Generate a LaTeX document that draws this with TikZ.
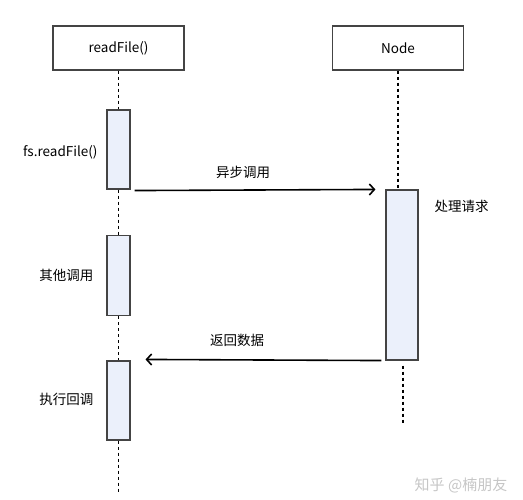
\documentclass[tikz,border=0pt]{standalone}
\usepackage{fontspec}
\setmainfont{Noto Sans CJK SC}
\usetikzlibrary{calc, arrows.meta}
\definecolor{actfill}{HTML}{EBF0FB}
\definecolor{edgegray}{HTML}{444444}

\begin{document}
\begin{tikzpicture}[x=1pt, y=1pt, >={Straight Barb[length=5pt, width=11pt]},
    font=\fontsize{13.5}{15}\selectfont,
    headbox/.style={draw=edgegray, line width=1.2pt, minimum width=131pt, minimum height=44pt, inner sep=0pt},
    actbox/.style={draw=edgegray, line width=1.1pt, fill=actfill, inner sep=0pt},
    lifeline/.style={line width=1.8pt, dash pattern=on 3pt off 3pt},
    msg/.style={line width=1.6pt, ->}]
    % --- Frame ---
    \useasboundingbox (0,0) rectangle (523,-500);

    % --- Participants ---
    \node[headbox] (rf) at (118.5,-48) {readFile()};
    \node[headbox] (nd) at (398,-48) {Node};

    % --- Activation boxes ---
    % readFile() side
    \node[actbox, minimum width=23pt, minimum height=79pt] (act1) at (118.5,-149.5) {};
    \node[actbox, minimum width=23pt, minimum height=80pt] (act2) at (118.5,-275.5) {};
    \node[actbox, minimum width=23pt, minimum height=79pt] (act3) at (118.5,-400.5) {};
    % Node side
    \node[actbox, minimum width=32pt, minimum height=170pt] (proc) at (402,-275) {};

    % --- End points of the lifelines ---
    \coordinate (endL) at (118.5,-493);
    \coordinate (endR) at (403,-423);

    % --- Lifelines ---
    \draw[lifeline] (rf.south) -- (act1.north);
    \draw[lifeline] (act1.south) -- (act2.north);
    \draw[lifeline] (act2.south) -- (act3.north);
    \draw[lifeline] (act3.south) -- (endL);
    \draw[lifeline] (nd.south) -- ([xshift=-4pt]proc.north);
    \draw[lifeline] ([xshift=1pt, yshift=-5pt]proc.south) -- (endR);

    % --- Messages ---
    \draw[msg] ([xshift=4pt, yshift=-1pt]act1.south east) -- ([xshift=-10pt]proc.north west);
    \draw[msg] ([xshift=-4pt]proc.south west) -- ([xshift=15pt, yshift=1pt]act3.north east);

    % --- Labels ---
    \node (lblcall) at (243,-172) {异步调用};
    \node (lblret) at (237,-340) {返回数据};
    \node[anchor=west] (lblproc) at (431,-206) {处理请求};
    \node[anchor=east] (lblfs) at (101,-152) {fs.readFile()};
    \node[anchor=east] (lblother) at (97,-275) {其他调用};
    \node[anchor=east] (lblcb) at (97,-399) {执行回调};

    % --- Watermark ---
    \node[text=gray!45, font=\fontsize{15}{17}\selectfont] (mark) at (461,-485) {知乎 @楠朋友};
\end{tikzpicture}
\end{document}
